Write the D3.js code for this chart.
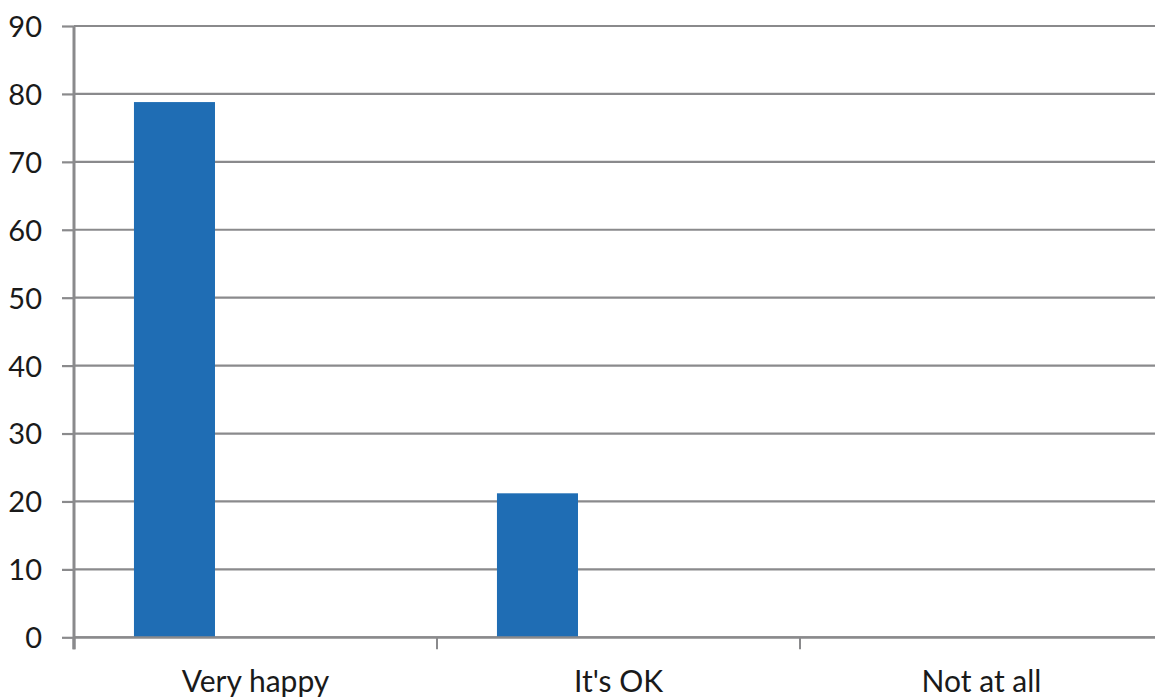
<!DOCTYPE html>
<html>
<head>
<meta charset="utf-8">
<script src="https://cdn.jsdelivr.net/npm/d3@7"></script>
<style>
  html, body { margin: 0; padding: 0; background: #ffffff; }
  svg { display: block; }
  text { font-family: Lato, "Open Sans", sans-serif; fill: #1a1a1a; }
</style>
</head>
<body>
<svg id="chart" width="1155" height="697"></svg>
<script>
// Survey answers
const categories = ["Very happy", "It's OK", "Not at all"];
const seriesSlots = ["Series 1", "Series 2", "Series 3"];
const values = [78.8, 21.2, 0];
const yTicks = [0, 10, 20, 30, 40, 50, 60, 70, 80, 90];

const width = 1155, height = 697;
const margin = { top: 26, right: -8, bottom: 60, left: 74 };

const svg = d3.select("#chart");

const x = d3.scaleBand()
  .domain(categories)
  .range([margin.left, width - margin.right])
  .padding(0);

// Each category holds three series slots; only the first carries data
const xInner = d3.scaleBand()
  .domain(seriesSlots)
  .range([0, x.bandwidth()])
  .paddingInner(0)
  .paddingOuter(0.74);

const y = d3.scaleLinear()
  .domain([0, 90])
  .range([height - margin.bottom + 0.3, margin.top]);

const gridColor = "#8a8a8c";

// Value axis: short ticks left of the axis, labels right-aligned
const yAxis = d3.axisLeft(y)
  .tickValues(yTicks)
  .tickSize(12)
  .tickPadding(20)
  .tickFormat(d3.format("d"));

const gy = svg.append("g")
  .attr("transform", `translate(${margin.left},0)`)
  .call(yAxis);
gy.select(".domain").remove();
gy.selectAll(".tick line").attr("stroke", gridColor).attr("stroke-width", 2.2);
gy.selectAll(".tick text")
  .attr("font-size", 29)
  .attr("dy", "0.36em")
  .style("font-family", "Lato, 'Open Sans', sans-serif")
  .attr("fill", "#1a1a1a");

// Horizontal gridlines
svg.append("g")
  .selectAll("line")
  .data(yTicks)
  .join("line")
  .attr("x1", margin.left)
  .attr("x2", width)
  .attr("y1", d => y(d))
  .attr("y2", d => y(d))
  .attr("stroke", gridColor)
  .attr("stroke-width", 2.2);

// Bars
svg.append("g")
  .selectAll("rect")
  .data(categories.map((c, i) => ({ c, v: values[i] })))
  .join("rect")
  .attr("x", d => x(d.c) + xInner(seriesSlots[0]))
  .attr("width", xInner.bandwidth())
  .attr("y", d => y(d.v))
  .attr("height", d => y(0) - y(d.v))
  .attr("fill", "#1f6db4");

// Category axis with boundary ticks
const bottomY = y(0);
const xAxisG = svg.append("g");
xAxisG.append("line")
  .attr("x1", margin.left).attr("x2", width)
  .attr("y1", bottomY).attr("y2", bottomY)
  .attr("stroke", gridColor).attr("stroke-width", 2.2);

const boundaries = categories.map(c => x(c));
xAxisG.selectAll("line.bound")
  .data(boundaries)
  .join("line")
  .attr("class", "bound")
  .attr("x1", d => d).attr("x2", d => d)
  .attr("y1", bottomY).attr("y2", bottomY + 12)
  .attr("stroke", gridColor)
  .attr("stroke-width", d => d === margin.left ? 3 : 2);

// Vertical value axis line
svg.append("line")
  .attr("x1", margin.left).attr("x2", margin.left)
  .attr("y1", y(90)).attr("y2", bottomY + 12)
  .attr("stroke", gridColor).attr("stroke-width", 3);

xAxisG.selectAll("text")
  .data(categories)
  .join("text")
  .attr("x", d => x(d) + x.bandwidth() / 2)
  .attr("y", bottomY + 55)
  .attr("text-anchor", "middle")
  .attr("font-size", 30)
  .text(d => d);
</script>
</body>
</html>
